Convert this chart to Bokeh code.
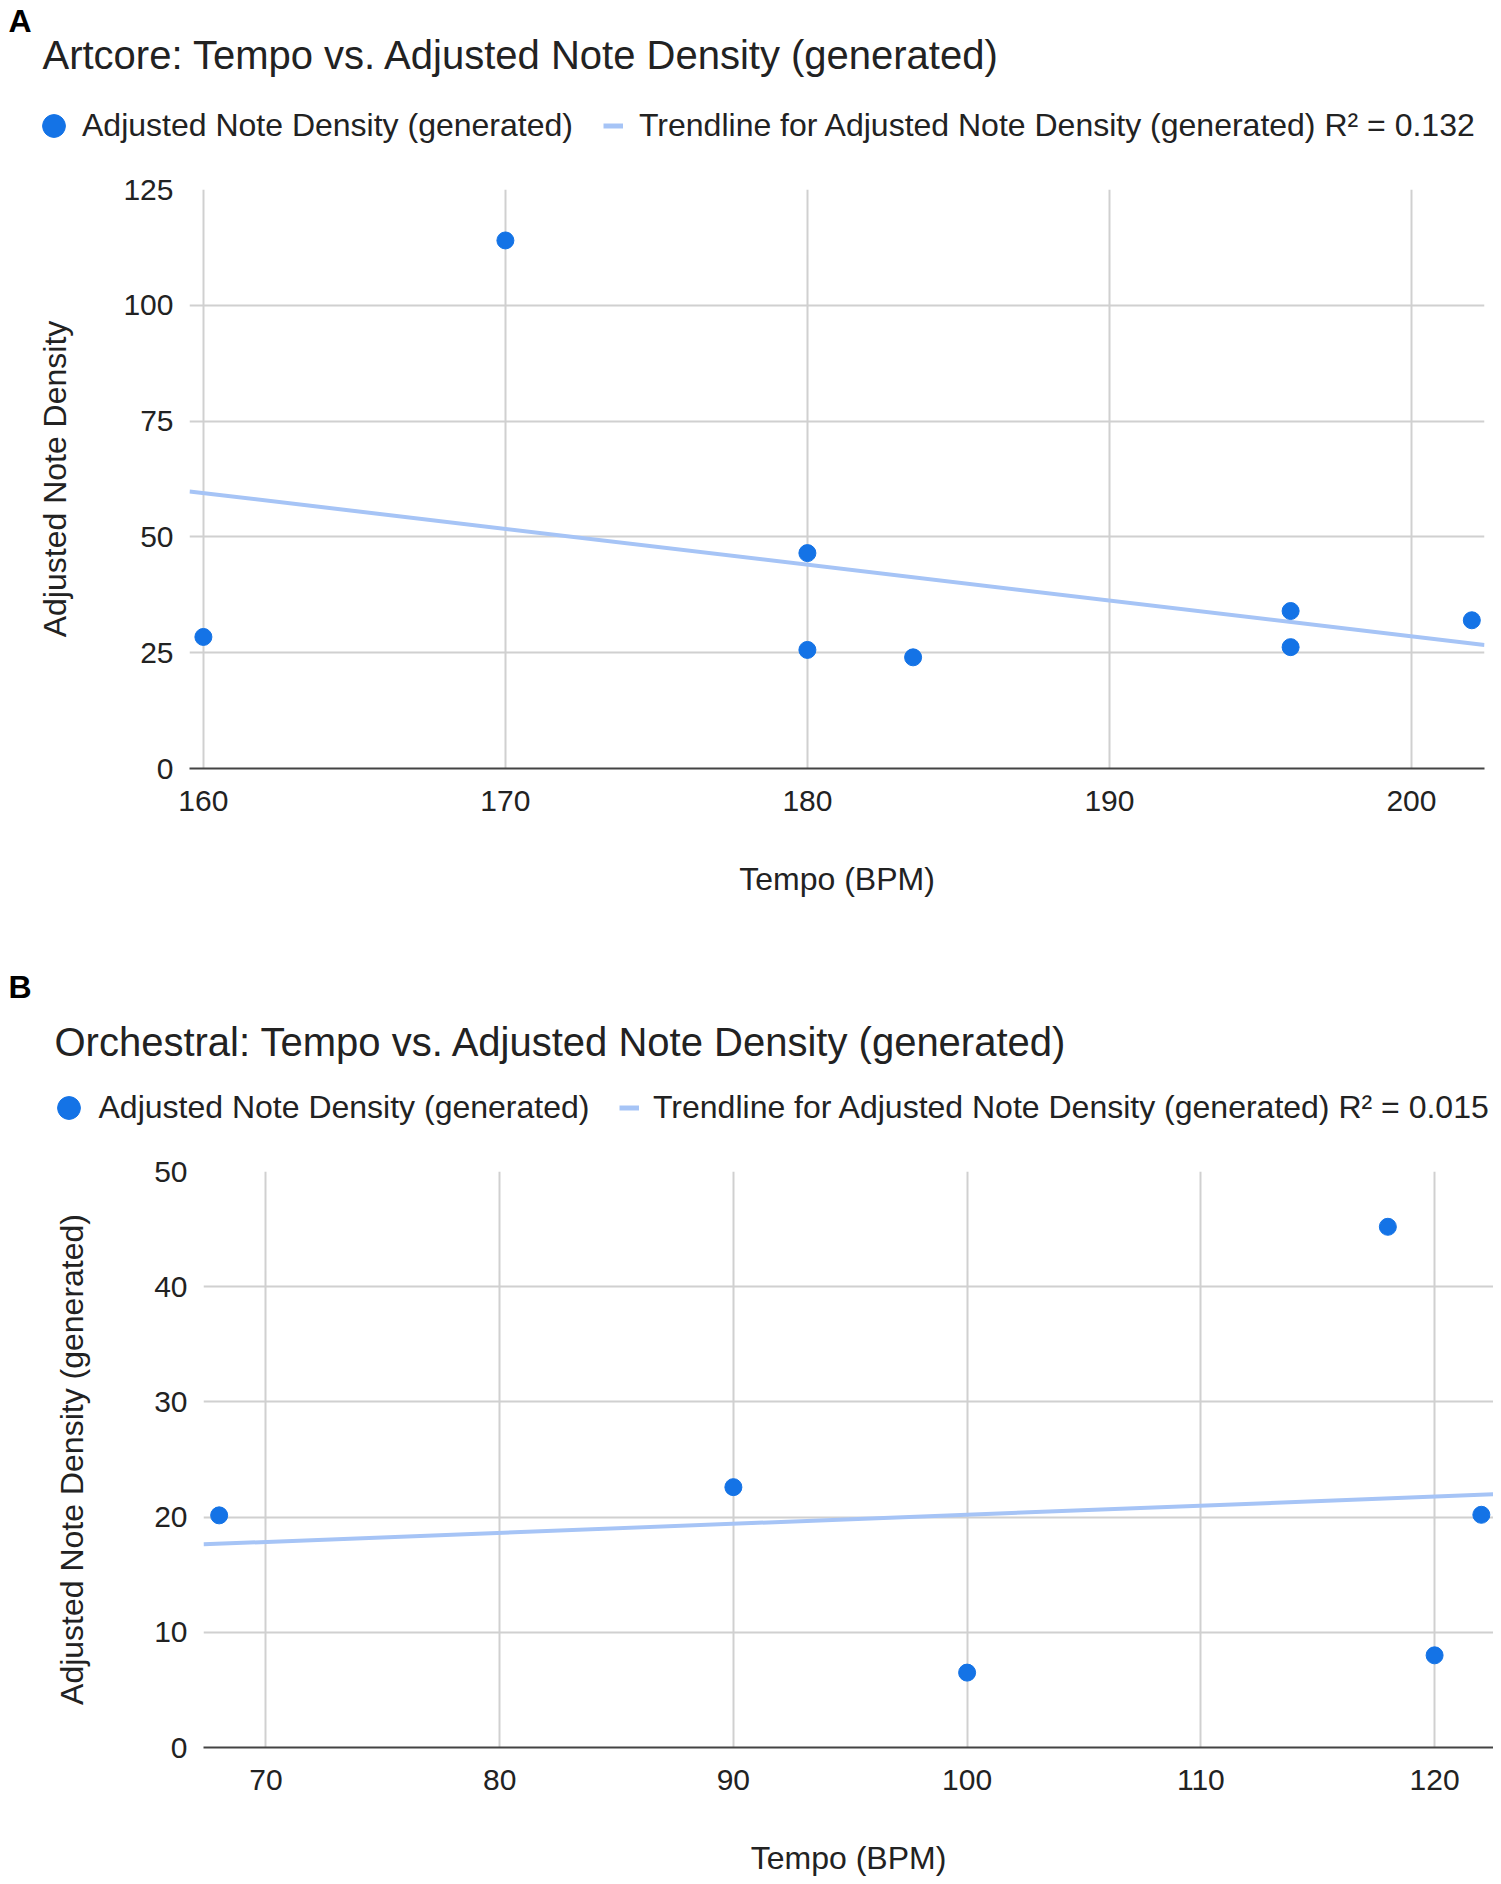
import numpy as np
from bokeh.plotting import figure
from bokeh.models import Label, Legend, LegendItem, Range1d
from bokeh.layouts import column
from bokeh.embed import file_html
from bokeh.resources import INLINE

# ---------------- data ----------------
artcore_tempo = [160, 170, 180, 180, 183.5, 196, 196, 202]
artcore_density = [28.4, 114.0, 46.5, 25.6, 24.0, 34.0, 26.2, 32.0]
artcore_xticks = [160, 170, 180, 190, 200]
artcore_yticks = [0, 25, 50, 75, 100, 125]
artcore_xrange = (159.54, 202.42)
artcore_yrange = (0, 125)

orch_tempo = [68, 90, 100, 118, 120, 122]
orch_density = [20.15, 22.6, 6.5, 45.2, 8.0, 20.2]
orch_xticks = [70, 80, 90, 100, 110, 120]
orch_yticks = [0, 10, 20, 30, 40, 50]
orch_xrange = (67.33, 122.52)
orch_yrange = (0, 50)

artcore_title = "Artcore: Tempo vs. Adjusted Note Density (generated)"
orch_title = "Orchestral: Tempo vs. Adjusted Note Density (generated)"
series_label = "Adjusted Note Density (generated)"
artcore_trend_label = "Trendline for Adjusted Note Density (generated) R\u00b2 = 0.132"
orch_trend_label = "Trendline for Adjusted Note Density (generated) R\u00b2 = 0.015"
x_label = "Tempo (BPM)"
artcore_ylabel = "Adjusted Note Density"
orch_ylabel = "Adjusted Note Density (generated)"

# ---------------- style ----------------
FONT = "Liberation Sans"
POINT = "#1473e6"
TREND = "#a6c4f6"
GRID = "#d0d0d0"
TXT = "#222222"
W = 1493


def fit_line(xs, ys, xr):
    """Least-squares trendline of the data, across the plotted x range."""
    slope, icpt = np.polyfit(xs, ys, 1)
    tx = [xr[0], xr[1]]
    return tx, [slope * v + icpt for v in tx]


def header(h, xs, ys, xr, letter, letter_pos, title, title_pos, leg1, leg2,
           trend_label):
    """Panel letter, chart title and legend, laid out in pixel units."""
    p = figure(width=W, height=h, output_backend="svg", toolbar_location=None,
               tools="", title=None, x_range=Range1d(0, W),
               y_range=Range1d(h, 0), x_axis_type=None, y_axis_type=None,
               min_border=0, min_border_left=0, min_border_right=0,
               min_border_top=0, min_border_bottom=0, frame_align=False)
    p.outline_line_color = None
    p.xgrid.visible = False
    p.ygrid.visible = False

    p.add_layout(Label(x=letter_pos[0], y=letter_pos[1], text=letter,
                       text_font=FONT, text_font_size="32px",
                       text_font_style="bold", text_color="#000000",
                       text_baseline="alphabetic"))
    p.add_layout(Label(x=title_pos[0], y=title_pos[1], text=title,
                       text_font=FONT, text_font_size="40px", text_color=TXT,
                       text_baseline="alphabetic"))

    # hidden copies of the series, used only as legend keys
    key_pts = p.scatter(xs, ys, size=17, marker="circle", fill_color=POINT,
                        line_color=POINT, visible=False)
    tx, ty = fit_line(xs, ys, xr)
    key_line = p.line(tx, ty, line_color=TREND, line_width=5, visible=False)

    def add_leg(renderer, label, box_left, box_bottom, gw, gh, standoff):
        leg = Legend(items=[LegendItem(label=label, renderers=[renderer])],
                     location=(box_left, h - box_bottom),
                     orientation="horizontal",
                     glyph_width=int(gw), glyph_height=int(gh),
                     label_height=int(gh), label_standoff=int(standoff),
                     padding=0, margin=0, border_line_color=None,
                     background_fill_alpha=0, label_text_font=FONT,
                     label_text_font_size="32px", label_text_color=TXT)
        p.add_layout(leg, "center")

    add_leg(key_pts, series_label, *leg1)
    add_leg(key_line, trend_label, *leg2)
    return p


def chart(xs, ys, xr, yr, xticks, yticks, h, borders, ylabel, ystand, xstand):
    left, right, top, bottom = borders
    p = figure(width=W, height=h, output_backend="svg", toolbar_location=None,
               tools="", title=None, x_range=Range1d(*xr), y_range=Range1d(*yr),
               min_border_left=left, min_border_right=right,
               min_border_top=top, min_border_bottom=bottom, frame_align=False)
    p.outline_line_color = None

    p.xaxis.ticker = xticks
    p.yaxis.ticker = yticks
    p.xgrid.ticker = xticks
    p.ygrid.ticker = yticks
    for ax in (p.xaxis, p.yaxis):
        ax.major_tick_line_color = None
        ax.minor_tick_line_color = None
        ax.major_tick_in = 0
        ax.major_tick_out = 0
        ax.major_label_text_font = FONT
        ax.major_label_text_font_size = "30px"
        ax.major_label_text_color = TXT
        ax.axis_label_text_font = FONT
        ax.axis_label_text_font_size = "32px"
        ax.axis_label_text_font_style = "normal"
        ax.axis_label_text_color = TXT
    p.xaxis.major_label_standoff = 22
    p.yaxis.major_label_standoff = 16
    p.xaxis.axis_label = x_label
    p.yaxis.axis_label = ylabel
    p.xaxis.axis_label_standoff = xstand
    p.yaxis.axis_label_standoff = ystand
    p.xaxis.axis_line_color = "#444444"
    p.xaxis.axis_line_width = 2
    p.yaxis.axis_line_color = None
    for g in (p.xgrid, p.ygrid):
        g.grid_line_color = GRID
        g.grid_line_width = 2

    tx, ty = fit_line(xs, ys, xr)
    p.line(tx, ty, line_color=TREND, line_width=4)
    p.scatter(xs, ys, size=17, marker="circle", fill_color=POINT,
              line_color=POINT)
    return p


ha = header(158, artcore_tempo, artcore_density, artcore_xrange, "A",
            (8, 20.4), artcore_title, (42, 54),
            (25, 153.5, 57, 57, 0), (603, 153.5, 20, 57, 16),
            artcore_trend_label)
pa = chart(artcore_tempo, artcore_density, artcore_xrange, artcore_yrange,
           artcore_xticks, artcore_yticks, 742, (189, W - 1484, 31, 132),
           artcore_ylabel, 47, 47)

hb = header(240, orch_tempo, orch_density, orch_xrange, "B",
            (8, 86.0), orch_title, (54, 141.3),
            (39.5, 235.5, 57, 57, 2), (619, 235.5, 20, 57, 14),
            orch_trend_label)
pb = chart(orch_tempo, orch_density, orch_xrange, orch_yrange,
           orch_xticks, orch_yticks, 738, (203, W - 1493, 31, 129),
           orch_ylabel, 61, 47)

layout = column(ha, pa, hb, pb, spacing=0)
open("out.html", "w").write(file_html(layout, INLINE))
